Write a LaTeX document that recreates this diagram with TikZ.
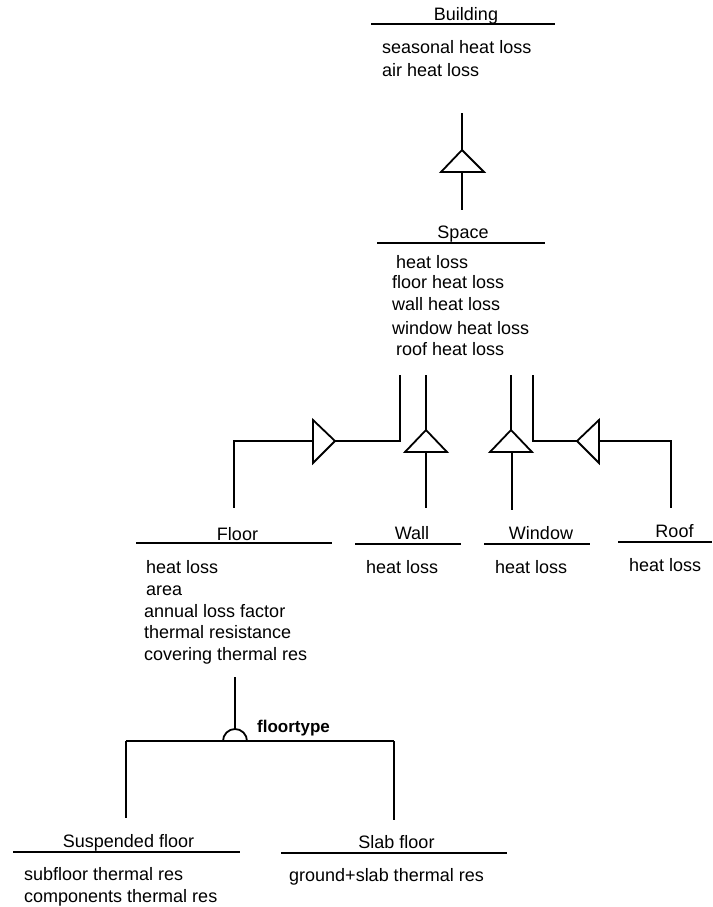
\documentclass[tikz,border=0pt]{standalone}
\usepackage{fontspec}
\setmainfont{Liberation Sans}
\begin{document}
\begin{tikzpicture}[x=1pt,y=-1pt,
  title/.style={font=\fontsize{18}{21}\selectfont, inner sep=0pt, anchor=base},
  attr/.style={font=\fontsize{18}{21}\selectfont, inner sep=0pt, anchor=base west},
  rule/.style={line width=1.9pt},
  conn/.style={line width=1.8pt, line join=miter},
  gen/.style={conn, fill=white}]
\useasboundingbox (0,0) rectangle (712,907);

% ---------- Building ----------
\node[title] (bT) at (466,21) {Building};
\draw[rule] (371,24) -- (555,24);
\node[attr] (bA1) at (382,53) {seasonal heat loss};
\node[attr] (bA2) at (382,76) {air heat loss};

% ---------- Space ----------
\node[title] (sT) at (463,238) {Space};
\draw[rule] (377,243) -- (545,243);
\node[attr] (sA1) at (396,268) {heat loss};
\node[attr] (sA2) at (392,288) {floor heat loss};
\node[attr] (sA3) at (392,310) {wall heat loss};
\node[attr] (sA4) at (392,334) {window heat loss};
\node[attr] (sA5) at (396,355) {roof heat loss};

% ---------- Floor ----------
\node[title] (fT) at (237.5,540) {Floor};
\draw[rule] (136,543) -- (332,543);
\node[attr] (fA1) at (146,573) {heat loss};
\node[attr] (fA2) at (146,595) {area};
\node[attr] (fA3) at (144,617) {annual loss factor};
\node[attr] (fA4) at (144,638) {thermal resistance};
\node[attr] (fA5) at (144,660) {covering thermal res};

% ---------- Wall ----------
\node[title] (wT) at (412,539) {Wall};
\draw[rule] (355,544) -- (461,544);
\node[attr] (wA1) at (366,573) {heat loss};

% ---------- Window ----------
\node[title] (nT) at (541,539) {Window};
\draw[rule] (484,544) -- (590,544);
\node[attr] (nA1) at (495,573) {heat loss};

% ---------- Roof ----------
\node[title] (rT) at (674.5,537) {Roof};
\draw[rule] (618,542) -- (712,542);
\node[attr] (rA1) at (629,571) {heat loss};

% ---------- Suspended floor ----------
\node[title] (uT) at (128.5,847) {Suspended floor};
\draw[rule] (13,852) -- (240,852);
\node[attr] (uA1) at (24,880) {subfloor thermal res};
\node[attr] (uA2) at (24,902) {components thermal res};

% ---------- Slab floor ----------
\node[title] (lT) at (396.5,848) {Slab floor};
\draw[rule] (281,853) -- (507,853);
\node[attr] (lA1) at (289,881) {ground+slab thermal res};

% ---------- Building <- Space ----------
\coordinate (bsTop) at (462,113);
\coordinate (bsApex) at (462,150);
\coordinate (bsL) at (441,172);
\coordinate (bsR) at (484,172);
\coordinate (bsBase) at (462,172);
\coordinate (bsBot) at (462,210);
\draw[conn] (bsTop) -- (bsApex);
\draw[gen] (bsL) -- (bsApex) -- (bsR) -- cycle;
\draw[conn] (bsBase) -- (bsBot);

% ---------- Space <- Floor ----------
\coordinate (sfTop) at (400,375);
\coordinate (sfCorner) at (400,441);
\coordinate (sfApex) at (335,441);
\coordinate (sfU) at (313,420);
\coordinate (sfD) at (313,463);
\coordinate (sfBase) at (313,441);
\coordinate (sfElbow) at (234,441);
\coordinate (sfBot) at (234,508);
\draw[conn] (sfTop) -- (sfCorner) -- (sfApex);
\draw[gen] (sfU) -- (sfApex) -- (sfD) -- cycle;
\draw[conn] (sfBase) -- (sfElbow) -- (sfBot);

% ---------- Space <- Wall ----------
\coordinate (swTop) at (426,375);
\coordinate (swApex) at (426,430);
\coordinate (swL) at (405,452);
\coordinate (swR) at (447,452);
\coordinate (swBase) at (426,452);
\coordinate (swBot) at (426,508);
\draw[conn] (swTop) -- (swApex);
\draw[gen] (swL) -- (swApex) -- (swR) -- cycle;
\draw[conn] (swBase) -- (swBot);

% ---------- Space <- Window ----------
\coordinate (snTop) at (511,375);
\coordinate (snApex) at (511,430);
\coordinate (snL) at (490,452);
\coordinate (snR) at (532,452);
\coordinate (snBase) at (512,452);
\coordinate (snBot) at (512,510);
\draw[conn] (snTop) -- (snApex);
\draw[gen] (snL) -- (snApex) -- (snR) -- cycle;
\draw[conn] (snBase) -- (snBot);

% ---------- Space <- Roof ----------
\coordinate (srTop) at (533,375);
\coordinate (srCorner) at (533,441);
\coordinate (srApex) at (577,441);
\coordinate (srU) at (599,420);
\coordinate (srD) at (599,463);
\coordinate (srBase) at (599,441);
\coordinate (srElbow) at (671,441);
\coordinate (srBot) at (671,508);
\draw[conn] (srTop) -- (srCorner) -- (srApex);
\draw[gen] (srU) -- (srApex) -- (srD) -- cycle;
\draw[conn] (srBase) -- (srElbow) -- (srBot);

% ---------- Floor generalisation ----------
\coordinate (fgTop) at (235,677);
\coordinate (fgArc) at (235,729);
\coordinate (fgL) at (126,741);
\coordinate (fgR) at (394,741);
\coordinate (fgLBot) at (126,818);
\coordinate (fgRBot) at (394,820);
\draw[conn] (fgTop) -- (fgArc);
\draw[conn] (fgL) -- (fgR);
\draw[conn] (223,741) arc[start angle=180, end angle=360, radius=12];
\draw[conn] (fgL) -- (fgLBot);
\draw[conn] (fgR) -- (fgRBot);
\node[font=\fontsize{17}{20}\selectfont\bfseries, inner sep=0pt, anchor=base west] (ft) at (257,732) {floortype};
\end{tikzpicture}
\end{document}
